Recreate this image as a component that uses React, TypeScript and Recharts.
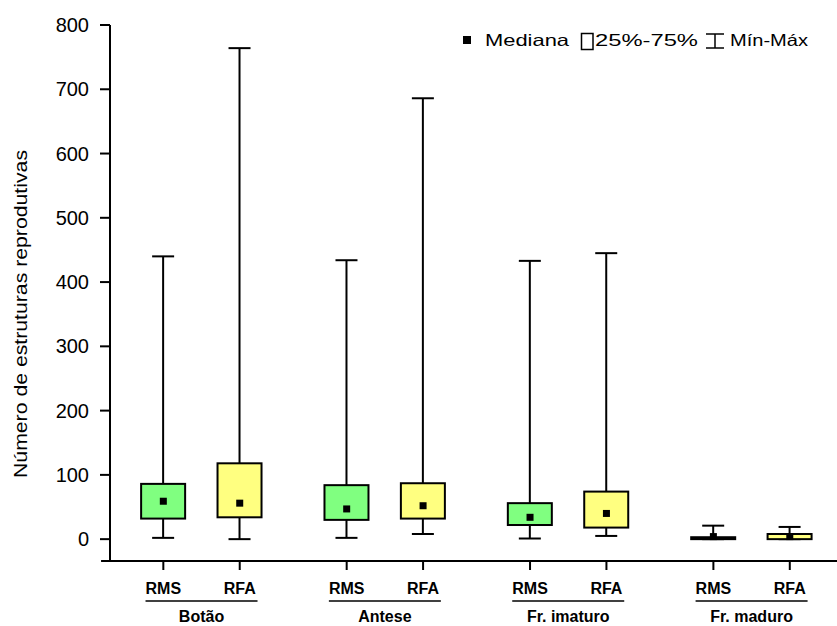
import React from "react";
import {
  Bar,
  Cell,
  ComposedChart,
  Label,
  Legend,
  ReferenceLine,
  Scatter,
  XAxis,
  YAxis,
} from "recharts";

const groups = ["Botão", "Antese", "Fr. imaturo", "Fr. maduro"];
const sites = ["RMS", "RFA"];
const positions = [0, 1, 2.4, 3.4, 4.8, 5.8, 7.2, 8.2];
const groupCenters = [0.5, 2.9, 5.3, 7.7];

const minimo = [2, 0, 2, 8, 1, 5, 0, 0];
const quartil1 = [32, 34, 30, 32, 22, 18, 0, 0];
const mediana = [59, 56, 47, 52, 34, 40, 4, 4];
const quartil3 = [86, 118, 84, 87, 56, 74, 3, 8];
const maximo = [440, 764, 434, 686, 433, 445, 21, 19];

const yTicks = [0, 100, 200, 300, 400, 500, 600, 700, 800];
const boxColors = ["#80FF80", "#FFFF80"];

const FONT = "'Liberation Sans', Arial, sans-serif";
const X_DOMAIN: [number, number] = [-0.698, 8.818];

const data = positions.map((x, i) => ({
  x,
  site: sites[i % 2],
  group: groups[Math.floor(i / 2)],
  whisker: [minimo[i], maximo[i]],
  box: [quartil1[i], quartil3[i]],
  median: mediana[i],
}));

function WhiskerShape(props: any) {
  const { x, y, width, height } = props;
  const top = Math.min(y, y + height);
  const bottom = Math.max(y, y + height);
  const cx = x + width / 2;
  return (
    <g stroke="#000" strokeWidth={2}>
      <line x1={cx} x2={cx} y1={top} y2={bottom} />
      <line x1={x} x2={x + width} y1={top} y2={top} />
      <line x1={x} x2={x + width} y1={bottom} y2={bottom} />
    </g>
  );
}

function BoxShape(props: any) {
  const { x, y, width, height, fill } = props;
  const top = Math.min(y, y + height);
  const h = Math.abs(height);
  return (
    <rect x={x} y={top} width={width} height={h} fill={fill} stroke="#000" strokeWidth={2} />
  );
}

function MedianShape(props: any) {
  const { cx, cy } = props;
  return <rect x={cx - 3.5} y={cy - 3.5} width={7} height={7} fill="#000" />;
}

// the tick y handed to a custom tick sits below the axis line; bring it back up
const TICK_SHIFT = 30;

function XTick(props: any) {
  const { x, payload } = props;
  const y = props.y - TICK_SHIFT;
  const v = payload.value;
  const idx = positions.indexOf(v);
  if (idx >= 0) {
    return (
      <g>
        <line x1={x} x2={x} y1={y} y2={y + 9} stroke="#000" strokeWidth={2} />
        <text x={x} y={y + 33} textAnchor="middle" fontFamily={FONT} fontWeight="bold" fontSize={16} fill="#000">
          {sites[idx % 2]}
        </text>
      </g>
    );
  }
  const g = groupCenters.indexOf(v);
  if (g < 0) return null;
  return (
    <g>
      <line x1={x - 56} x2={x + 56} y1={y + 40} y2={y + 40} stroke="#000" strokeWidth={1.5} />
      <text x={x} y={y + 61} textAnchor="middle" fontFamily={FONT} fontWeight="bold" fontSize={16} fill="#000">
        {groups[g]}
      </text>
    </g>
  );
}

function LegendContent() {
  return (
    <svg width={380} height={32} style={{ display: "block" }}>
      <rect x={8} y={11} width={8} height={8} fill="#000" />
      <text x={30} y={21} fontFamily={FONT} fontSize={16.5} textLength={84} lengthAdjust="spacingAndGlyphs" fill="#000">
        Mediana
      </text>
      <rect x={126.5} y={8.5} width={11.5} height={16} fill="#fff" stroke="#000" strokeWidth={1.5} />
      <text x={140} y={21} fontFamily={FONT} fontSize={16.5} textLength={103} lengthAdjust="spacingAndGlyphs" fill="#000">
        25%-75%
      </text>
      <g stroke="#000" strokeWidth={1.5}>
        <line x1={251} x2={269} y1={9} y2={9} />
        <line x1={260} x2={260} y1={9} y2={23} />
        <line x1={251} x2={269} y1={23} y2={23} />
      </g>
      <text x={275} y={21} fontFamily={FONT} fontSize={16.5} textLength={78} lengthAdjust="spacingAndGlyphs" fill="#000">
        Mín-Máx
      </text>
    </svg>
  );
}

function YLabel() {
  return (
    <text
      x={0}
      y={0}
      transform="translate(27, 314) rotate(-90)"
      textAnchor="middle"
      fontFamily={FONT}
      fontSize={18.5}
      textLength={328}
      lengthAdjust="spacingAndGlyphs"
      fill="#000"
    >
      Número de estruturas reprodutivas
    </text>
  );
}

export default function App() {
  return (
    <div style={{ position: "absolute", left: 0, top: 0, background: "#fff" }}>
      <ComposedChart
        width={837}
        height={626}
        data={data}
        margin={{ top: 25, right: 0, bottom: 0, left: 0 }}
      >
        <XAxis
          xAxisId="main"
          dataKey="x"
          type="number"
          domain={X_DOMAIN}
          allowDataOverflow
          ticks={[...positions, ...groupCenters]}
          interval={0}
          height={65}
          axisLine={false}
          tickLine={false}
          tickSize={0}
          tickMargin={0}
          tick={<XTick />}
        />
        <XAxis xAxisId="w" dataKey="x" type="number" domain={X_DOMAIN} allowDataOverflow hide />
        <XAxis xAxisId="b" dataKey="x" type="number" domain={X_DOMAIN} allowDataOverflow hide />
        <YAxis
          type="number"
          domain={[-34, 800]}
          allowDataOverflow
          ticks={yTicks}
          interval={0}
          width={110}
          tickSize={10}
          tickMargin={11}
          axisLine={{ stroke: "#000", strokeWidth: 2 }}
          tickLine={{ stroke: "#000", strokeWidth: 2 }}
          tick={{ fontSize: 20, fill: "#000", fontFamily: FONT }}
        >
          <Label content={<YLabel />} />
        </YAxis>
        <Legend
          layout="horizontal"
          verticalAlign="middle"
          align="center"
          content={<LegendContent />}
          wrapperStyle={{ top: 25, left: 455, width: 380, height: 32 }}
        />
        <ReferenceLine
          xAxisId="main"
          segment={[
            { x: -0.815, y: -34 },
            { x: X_DOMAIN[1], y: -34 },
          ]}
          ifOverflow="visible"
          stroke="#000"
          strokeWidth={2}
        />
        <Bar
          xAxisId="w"
          dataKey="whisker"
          barSize={22}
          shape={<WhiskerShape />}
          isAnimationActive={false}
        />
        <Bar
          xAxisId="b"
          dataKey="box"
          barSize={44}
          shape={<BoxShape />}
          isAnimationActive={false}
        >
          {data.map((_, i) => (
            <Cell key={i} fill={boxColors[i % 2]} />
          ))}
        </Bar>
        <Scatter
          xAxisId="main"
          dataKey="median"
          shape={<MedianShape />}
          isAnimationActive={false}
        />
      </ComposedChart>
    </div>
  );
}
